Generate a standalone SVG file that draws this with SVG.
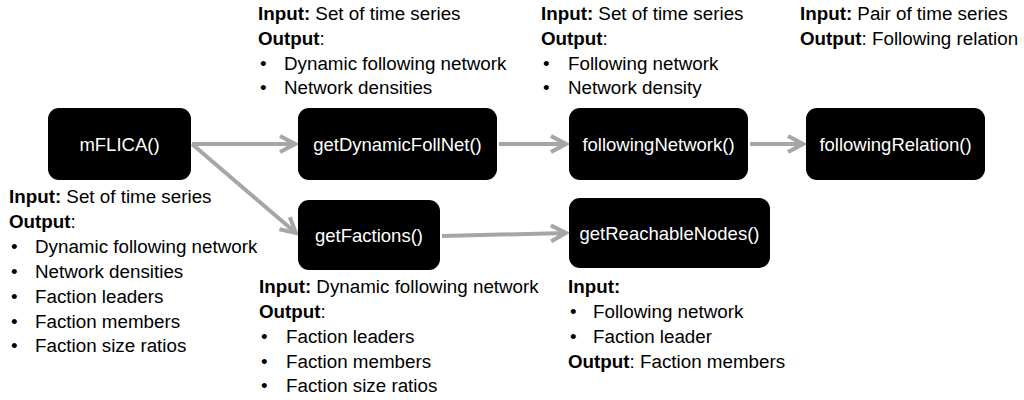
<svg xmlns="http://www.w3.org/2000/svg" width="1024" height="400" viewBox="0 0 1024 400">
<style>
text{font-family:"Liberation Sans",Arial,sans-serif;font-size:18.8px;fill:#000}
.b{font-weight:bold}
.node rect{fill:#000}
.node text{fill:#fff;text-anchor:middle;font-size:18.5px}
.conn line{stroke:#A6A6A6;stroke-width:4;fill:none}
</style>
<defs>
<marker id="ah" markerUnits="userSpaceOnUse" viewBox="-16 -10 20 20" refX="0" refY="0" markerWidth="20" markerHeight="20" orient="auto">
<polyline points="-15,-8 0,0 -15,8" fill="none" stroke="#A6A6A6" stroke-width="4" stroke-linejoin="miter"/>
</marker>
</defs>
<rect width="1024" height="400" fill="#fff"/>
<g class="conn">
<line x1="192" y1="144" x2="295" y2="144" marker-end="url(#ah)"/>
<line x1="192" y1="144" x2="296" y2="233" marker-end="url(#ah)"/>
<line x1="499" y1="144" x2="566" y2="144" marker-end="url(#ah)"/>
<line x1="750" y1="144" x2="803" y2="144" marker-end="url(#ah)"/>
<line x1="442" y1="236" x2="566" y2="233" marker-end="url(#ah)"/>
</g>
<g id="mflica" class="node"><rect x="48" y="108" width="143" height="72" rx="11"/><text x="119.5" y="151">mFLICA()</text></g>
<g id="getDynamicFollNet" class="node"><rect x="298" y="108" width="199" height="72" rx="11"/><text x="397.5" y="151">getDynamicFollNet()</text></g>
<g id="followingNetwork" class="node"><rect x="569" y="108" width="179" height="72" rx="11"/><text x="658.5" y="151">followingNetwork()</text></g>
<g id="followingRelation" class="node"><rect x="806" y="108" width="179" height="72" rx="11"/><text x="895.5" y="151">followingRelation()</text></g>
<g id="getFactions" class="node"><rect x="298" y="200" width="142" height="70" rx="11"/><text x="369" y="242">getFactions()</text></g>
<g id="getReachableNodes" class="node"><rect x="569" y="198" width="201" height="70" rx="11"/><text x="669.5" y="240">getReachableNodes()</text></g>
<g id="desc-mflica">
<text x="9" y="203"><tspan class="b">Input:</tspan> Set of time series</text>
<text x="9" y="228"><tspan class="b">Output</tspan>:</text>
<text x="11" y="253">•</text><text x="35" y="253">Dynamic following network</text>
<text x="11" y="278">•</text><text x="35" y="278">Network densities</text>
<text x="11" y="303">•</text><text x="35" y="303">Faction leaders</text>
<text x="11" y="328">•</text><text x="35" y="328">Faction members</text>
<text x="11" y="352">•</text><text x="35" y="352">Faction size ratios</text>
</g>
<g id="desc-getDynamicFollNet">
<text x="258" y="20"><tspan class="b">Input:</tspan> Set of time series</text>
<text x="258" y="45"><tspan class="b">Output</tspan>:</text>
<text x="260" y="70">•</text><text x="284" y="70">Dynamic following network</text>
<text x="260" y="94">•</text><text x="284" y="94">Network densities</text>
</g>
<g id="desc-followingNetwork">
<text x="541" y="20"><tspan class="b">Input:</tspan> Set of time series</text>
<text x="541" y="45"><tspan class="b">Output</tspan>:</text>
<text x="543" y="70">•</text><text x="568" y="70">Following network</text>
<text x="543" y="94">•</text><text x="568" y="94">Network density</text>
</g>
<g id="desc-followingRelation">
<text x="800" y="20"><tspan class="b">Input:</tspan> Pair of time series</text>
<text x="800" y="45"><tspan class="b">Output</tspan>: Following relation</text>
</g>
<g id="desc-getFactions">
<text x="259" y="293"><tspan class="b">Input:</tspan> Dynamic following network</text>
<text x="259" y="318"><tspan class="b">Output</tspan>:</text>
<text x="261" y="343">•</text><text x="286" y="343">Faction leaders</text>
<text x="261" y="368">•</text><text x="286" y="368">Faction members</text>
<text x="261" y="392">•</text><text x="286" y="392">Faction size ratios</text>
</g>
<g id="desc-getReachableNodes">
<text x="568" y="293" class="b">Input:</text>
<text x="570" y="318">•</text><text x="593" y="318">Following network</text>
<text x="570" y="343">•</text><text x="593" y="343">Faction leader</text>
<text x="568" y="368"><tspan class="b">Output</tspan>: Faction members</text>
</g>
</svg>
